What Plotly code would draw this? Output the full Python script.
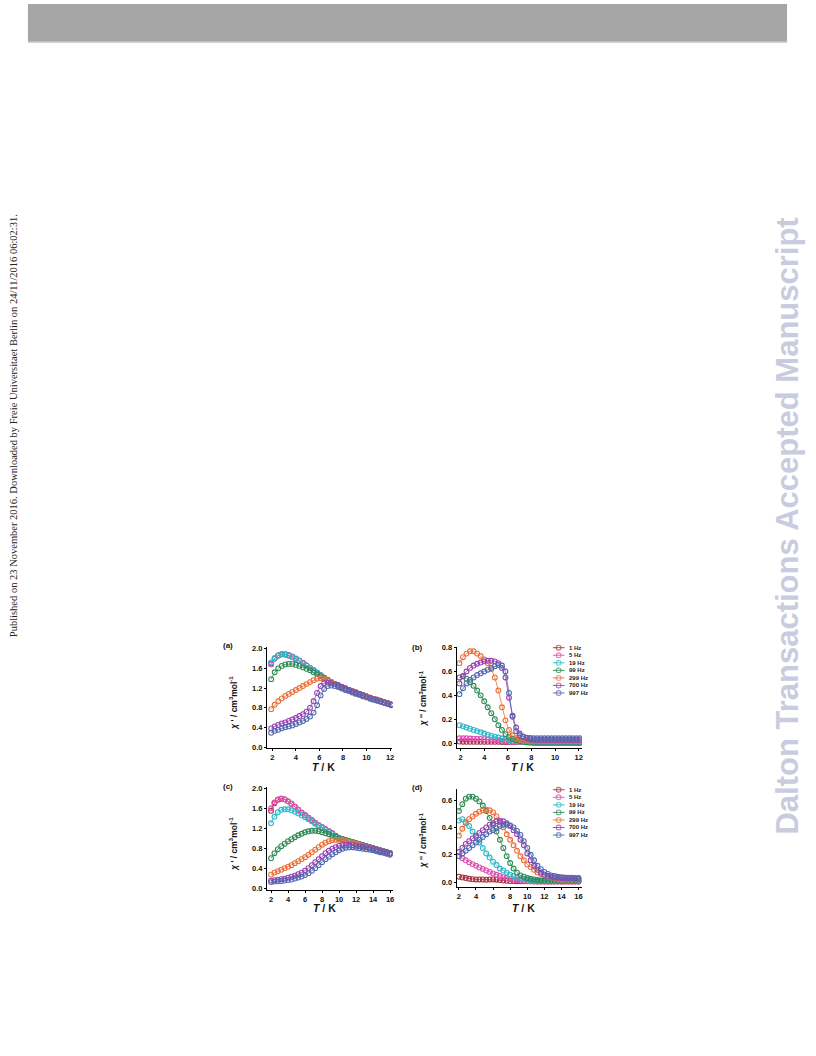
import plotly.graph_objects as go

W, H = 816, 1056

freqs = ["1 Hz", "5 Hz", "19 Hz", "99 Hz", "299 Hz", "700 Hz", "997 Hz"]
colors = ["#a8303f", "#e04fb0", "#2fb8c8", "#2e8b57", "#e8703a", "#9b3fb5", "#5468b0"]

# ---------- temperatures ----------
T_ab = [1.9, 2.2, 2.5, 2.8, 3.1, 3.4, 3.7, 4.0, 4.3, 4.6, 4.9, 5.2, 5.5, 5.8, 6.1, 6.4, 6.7, 7.0,
        7.3, 7.6, 7.9, 8.2, 8.5, 8.8, 9.1, 9.4, 9.7, 10.0, 10.3, 10.6, 10.9, 11.2, 11.5, 11.8, 12.1]
T_cd = [2.0, 2.4, 2.8, 3.2, 3.6, 4.0, 4.4, 4.8, 5.2, 5.6, 6.0, 6.4, 6.8, 7.2, 7.6, 8.0, 8.4, 8.8,
        9.2, 9.6, 10.0, 10.4, 10.8, 11.2, 11.6, 12.0, 12.4, 12.8, 13.2, 13.6, 14.0, 14.4, 14.8, 15.2, 15.6, 16.0]

# ---------- (a) chi' ----------
a_1 = [1.70, 1.80, 1.86, 1.89, 1.88, 1.86, 1.83, 1.79, 1.75, 1.71, 1.66, 1.61, 1.56, 1.51, 1.46, 1.41, 1.36, 1.32,
       1.28, 1.25, 1.22, 1.19, 1.16, 1.13, 1.11, 1.08, 1.05, 1.03, 1.00, 0.98, 0.96, 0.93, 0.91, 0.89, 0.86]
a_5 = [1.68, 1.80, 1.86, 1.89, 1.89, 1.87, 1.84, 1.80, 1.76, 1.71, 1.66, 1.61, 1.56, 1.51, 1.46, 1.41, 1.37, 1.32,
       1.28, 1.25, 1.22, 1.19, 1.16, 1.14, 1.11, 1.08, 1.06, 1.03, 1.01, 0.98, 0.96, 0.94, 0.91, 0.89, 0.87]
a_19 = [1.72, 1.81, 1.86, 1.88, 1.88, 1.86, 1.83, 1.79, 1.75, 1.70, 1.66, 1.61, 1.56, 1.51, 1.46, 1.41, 1.36, 1.32,
        1.28, 1.25, 1.22, 1.19, 1.16, 1.13, 1.10, 1.08, 1.05, 1.03, 1.00, 0.98, 0.95, 0.93, 0.91, 0.88, 0.86]
a_99 = [1.38, 1.52, 1.60, 1.65, 1.68, 1.69, 1.69, 1.67, 1.65, 1.62, 1.59, 1.56, 1.52, 1.48, 1.44, 1.40, 1.36, 1.32,
        1.28, 1.25, 1.22, 1.19, 1.16, 1.13, 1.11, 1.08, 1.05, 1.03, 1.00, 0.98, 0.96, 0.93, 0.91, 0.89, 0.86]
a_299 = [0.77, 0.86, 0.93, 0.99, 1.04, 1.08, 1.12, 1.16, 1.20, 1.24, 1.28, 1.32, 1.36, 1.39, 1.40, 1.39, 1.36, 1.32,
         1.28, 1.25, 1.22, 1.19, 1.16, 1.13, 1.10, 1.08, 1.05, 1.03, 1.00, 0.98, 0.96, 0.93, 0.91, 0.89, 0.86]
a_700 = [0.38, 0.42, 0.45, 0.48, 0.50, 0.53, 0.56, 0.59, 0.63, 0.67, 0.72, 0.80, 0.93, 1.10, 1.24, 1.30, 1.31, 1.30,
         1.28, 1.25, 1.22, 1.19, 1.16, 1.13, 1.10, 1.08, 1.05, 1.02, 1.00, 0.97, 0.95, 0.93, 0.90, 0.88, 0.86]
a_997 = [0.29, 0.33, 0.35, 0.38, 0.40, 0.42, 0.44, 0.47, 0.50, 0.53, 0.57, 0.62, 0.70, 0.85, 1.05, 1.18, 1.24, 1.25,
         1.24, 1.22, 1.19, 1.16, 1.14, 1.11, 1.08, 1.06, 1.03, 1.01, 0.98, 0.96, 0.94, 0.92, 0.90, 0.88, 0.85]

# ---------- (b) chi'' ----------
b_1 = [0.012, 0.011, 0.010, 0.010, 0.010, 0.010, 0.010, 0.010, 0.010, 0.010, 0.010, 0.010, 0.009, 0.009, 0.009,
       0.009, 0.009, 0.009, 0.009, 0.009, 0.009, 0.009, 0.009, 0.009, 0.009, 0.009, 0.009, 0.009, 0.009, 0.009,
       0.009, 0.009, 0.009, 0.009, 0.009]
b_5 = [0.040, 0.040, 0.040, 0.038, 0.037, 0.036, 0.034, 0.032, 0.030, 0.027, 0.024, 0.021, 0.018, 0.015, 0.012,
       0.010, 0.009, 0.008, 0.008, 0.008, 0.008, 0.008, 0.008, 0.008, 0.008, 0.008, 0.008, 0.008, 0.008, 0.008,
       0.008, 0.008, 0.008, 0.008, 0.008]
b_19 = [0.150, 0.140, 0.130, 0.120, 0.110, 0.100, 0.090, 0.080, 0.070, 0.062, 0.054, 0.046, 0.038, 0.031, 0.025,
        0.020, 0.015, 0.011, 0.008, 0.006, 0.005, 0.005, 0.005, 0.005, 0.005, 0.005, 0.005, 0.005, 0.005, 0.005,
        0.005, 0.005, 0.005, 0.005, 0.005]
b_99 = [0.550, 0.560, 0.540, 0.510, 0.480, 0.440, 0.400, 0.350, 0.300, 0.250, 0.200, 0.150, 0.110, 0.075, 0.050,
        0.035, 0.025, 0.017, 0.010, 0.006, 0.003, 0.001, 0.000, 0.000, 0.000, 0.000, 0.000, 0.000, 0.000, 0.000,
        0.000, 0.000, 0.000, 0.000, 0.000]
b_299 = [0.670, 0.720, 0.750, 0.770, 0.770, 0.750, 0.730, 0.700, 0.670, 0.620, 0.550, 0.440, 0.300, 0.190, 0.110,
         0.065, 0.040, 0.028, 0.020, 0.017, 0.015, 0.015, 0.015, 0.015, 0.015, 0.015, 0.015, 0.015, 0.015, 0.015,
         0.015, 0.015, 0.015, 0.015, 0.015]
b_700 = [0.500, 0.560, 0.600, 0.630, 0.650, 0.665, 0.675, 0.685, 0.690, 0.690, 0.685, 0.670, 0.630, 0.550, 0.380,
         0.230, 0.130, 0.080, 0.055, 0.040, 0.032, 0.028, 0.025, 0.025, 0.025, 0.025, 0.025, 0.025, 0.025, 0.025,
         0.025, 0.025, 0.025, 0.025, 0.025]
b_997 = [0.410, 0.460, 0.500, 0.530, 0.550, 0.570, 0.585, 0.600, 0.615, 0.630, 0.645, 0.655, 0.650, 0.600, 0.420,
         0.220, 0.100, 0.065, 0.050, 0.045, 0.042, 0.040, 0.040, 0.040, 0.040, 0.040, 0.040, 0.040, 0.040, 0.040,
         0.040, 0.040, 0.040, 0.040, 0.040]

# ---------- (c) chi' ----------
c_1 = [1.55, 1.70, 1.77, 1.79, 1.78, 1.74, 1.69, 1.63, 1.57, 1.51, 1.46, 1.41, 1.36, 1.31, 1.26, 1.22, 1.18, 1.14,
       1.10, 1.05, 1.00, 0.98, 0.96, 0.94, 0.92, 0.90, 0.88, 0.86, 0.84, 0.82, 0.80, 0.78, 0.76, 0.74, 0.72, 0.70]
c_5 = [1.60, 1.72, 1.78, 1.80, 1.78, 1.74, 1.69, 1.63, 1.57, 1.51, 1.46, 1.41, 1.36, 1.31, 1.26, 1.22, 1.18, 1.14,
       1.10, 1.04, 1.00, 0.98, 0.96, 0.94, 0.92, 0.90, 0.88, 0.86, 0.84, 0.82, 0.80, 0.78, 0.76, 0.74, 0.72, 0.70]
c_19 = [1.30, 1.43, 1.52, 1.57, 1.58, 1.58, 1.56, 1.53, 1.50, 1.46, 1.42, 1.38, 1.34, 1.29, 1.25, 1.21, 1.17, 1.13,
        1.09, 1.04, 1.00, 0.98, 0.96, 0.94, 0.92, 0.90, 0.88, 0.86, 0.84, 0.82, 0.80, 0.78, 0.76, 0.74, 0.72, 0.70]
c_99 = [0.60, 0.70, 0.78, 0.84, 0.89, 0.94, 0.98, 1.02, 1.06, 1.09, 1.12, 1.14, 1.15, 1.15, 1.14, 1.12, 1.10, 1.08,
        1.05, 1.03, 1.00, 0.98, 0.96, 0.94, 0.92, 0.90, 0.88, 0.86, 0.84, 0.82, 0.80, 0.78, 0.76, 0.74, 0.72, 0.70]
c_299 = [0.27, 0.31, 0.34, 0.37, 0.40, 0.43, 0.46, 0.50, 0.54, 0.58, 0.62, 0.67, 0.72, 0.77, 0.82, 0.87, 0.91, 0.94,
         0.96, 0.97, 0.97, 0.96, 0.95, 0.93, 0.91, 0.89, 0.87, 0.85, 0.83, 0.81, 0.79, 0.77, 0.75, 0.73, 0.71, 0.69]
c_700 = [0.15, 0.16, 0.17, 0.18, 0.19, 0.21, 0.23, 0.25, 0.28, 0.31, 0.35, 0.40, 0.46, 0.52, 0.58, 0.64, 0.70, 0.75,
         0.79, 0.82, 0.85, 0.86, 0.87, 0.87, 0.86, 0.85, 0.84, 0.83, 0.82, 0.80, 0.79, 0.77, 0.75, 0.73, 0.71, 0.69]
c_997 = [0.12, 0.13, 0.135, 0.14, 0.15, 0.16, 0.17, 0.19, 0.21, 0.23, 0.26, 0.30, 0.35, 0.40, 0.46, 0.52, 0.58, 0.63,
         0.68, 0.72, 0.76, 0.79, 0.81, 0.82, 0.82, 0.81, 0.80, 0.79, 0.78, 0.77, 0.76, 0.74, 0.72, 0.71, 0.69, 0.67]

# ---------- (d) chi'' ----------
d_1 = [0.040, 0.035, 0.030, 0.025, 0.022, 0.020, 0.020, 0.020, 0.018, 0.020, 0.020, 0.018, 0.015, 0.012, 0.010,
       0.008, 0.008, 0.007, 0.007, 0.006, 0.006, 0.006, 0.005, 0.005, 0.005, 0.005, 0.005, 0.005, 0.005, 0.005,
       0.005, 0.005, 0.005, 0.005, 0.005, 0.005]
d_5 = [0.190, 0.175, 0.160, 0.145, 0.132, 0.120, 0.108, 0.097, 0.086, 0.075, 0.064, 0.054, 0.045, 0.037, 0.030,
       0.024, 0.019, 0.015, 0.012, 0.010, 0.008, 0.007, 0.006, 0.005, 0.005, 0.005, 0.005, 0.005, 0.005, 0.005,
       0.005, 0.005, 0.005, 0.005, 0.005, 0.005]
d_19 = [0.450, 0.460, 0.440, 0.410, 0.370, 0.330, 0.290, 0.250, 0.210, 0.180, 0.150, 0.125, 0.100, 0.085, 0.070,
        0.055, 0.045, 0.035, 0.028, 0.022, 0.018, 0.015, 0.012, 0.010, 0.010, 0.010, 0.010, 0.010, 0.010, 0.010,
        0.010, 0.010, 0.010, 0.010, 0.010, 0.010]
d_99 = [0.520, 0.570, 0.610, 0.625, 0.625, 0.610, 0.590, 0.560, 0.520, 0.470, 0.420, 0.370, 0.310, 0.250, 0.190,
        0.140, 0.100, 0.070, 0.050, 0.040, 0.030, 0.025, 0.020, 0.016, 0.013, 0.011, 0.010, 0.010, 0.010, 0.010,
        0.010, 0.010, 0.010, 0.010, 0.010, 0.010]
d_299 = [0.340, 0.390, 0.430, 0.460, 0.480, 0.500, 0.515, 0.525, 0.530, 0.525, 0.510, 0.480, 0.440, 0.400, 0.350,
         0.310, 0.270, 0.230, 0.190, 0.160, 0.130, 0.110, 0.090, 0.070, 0.060, 0.050, 0.040, 0.035, 0.030, 0.025,
         0.020, 0.020, 0.020, 0.020, 0.020, 0.020]
d_700 = [0.220, 0.250, 0.280, 0.300, 0.320, 0.340, 0.360, 0.380, 0.400, 0.420, 0.430, 0.445, 0.450, 0.445, 0.430,
         0.410, 0.380, 0.350, 0.310, 0.270, 0.210, 0.160, 0.120, 0.090, 0.070, 0.055, 0.045, 0.040, 0.035, 0.032,
         0.030, 0.028, 0.027, 0.026, 0.025, 0.025]
d_997 = [0.190, 0.210, 0.230, 0.250, 0.270, 0.290, 0.310, 0.330, 0.350, 0.370, 0.380, 0.395, 0.410, 0.420, 0.420,
         0.415, 0.400, 0.375, 0.345, 0.300, 0.250, 0.200, 0.160, 0.120, 0.095, 0.075, 0.060, 0.050, 0.045, 0.040,
         0.036, 0.034, 0.033, 0.032, 0.031, 0.030]

panels = [
    ("x", "y", T_ab, [a_1, a_5, a_19, a_99, a_299, a_700, a_997]),
    ("x2", "y2", T_ab, [b_1, b_5, b_19, b_99, b_299, b_700, b_997]),
    ("x3", "y3", T_cd, [c_1, c_5, c_19, c_99, c_299, c_700, c_997]),
    ("x4", "y4", T_cd, [d_1, d_5, d_19, d_99, d_299, d_700, d_997]),
]

FONT = "Liberation Sans, Arial, sans-serif"


def px(x):
    return x / W


def py(y):
    return 1 - y / H


fig = go.Figure()

for xa, ya, T, series in panels:
    for name, col, vals in zip(freqs, colors, series):
        fig.add_trace(go.Scatter(
            x=T, y=vals, xaxis=xa, yaxis=ya, mode="lines+markers", name=name,
            showlegend=False,
            line=dict(color=col, width=0.8),
            marker=dict(symbol="circle-open", size=4.8, color=col, line=dict(width=1.1, color=col)),
        ))

# hand-built legends for (b) and (d)
for xa, ya in [("x5", "y5"), ("x6", "y6")]:
    for i, (name, col) in enumerate(zip(freqs, colors)):
        fig.add_trace(go.Scatter(
            x=[0, 6, 12], y=[i, i, i], xaxis=xa, yaxis=ya, mode="lines+markers",
            showlegend=False, hoverinfo="skip",
            line=dict(color=col, width=0.9),
            marker=dict(symbol="circle-open", size=[0, 4.8, 0], color=col, line=dict(width=1.1, color=col)),
        ))

axis_common = dict(showgrid=False, zeroline=False, showline=True, linecolor="black", linewidth=1,
                   ticks="outside", ticklen=2, tickwidth=1, tickcolor="black",
                   tickfont=dict(family=FONT, size=7.5, color="#111", weight=700))

# domains (pixel based)
A = dict(x=(267.7, 393.4), y=(648.3, 750.0), xr=[1.55, 12.2], yr=[-0.02, 2.034], yt=[0, 0.4, 0.8, 1.2, 1.6, 2.0], xt=[2, 4, 6, 8, 10, 12])
B = dict(x=(457.7, 583.3), y=(648.0, 750.0), xr=[1.66, 12.27], yr=[-0.042, 0.808], yt=[0, 0.2, 0.4, 0.6, 0.8], xt=[2, 4, 6, 8, 10, 12])
C = dict(x=(267.7, 393.6), y=(789.1, 893.0), xr=[1.53, 16.3], yr=[-0.04, 2.03], yt=[0, 0.4, 0.8, 1.2, 1.6, 2.0], xt=[2, 4, 6, 8, 10, 12, 14, 16])
D = dict(x=(457.7, 583.2), y=(791.2, 890.0), xr=[1.73, 16.38], yr=[-0.036, 0.681], yt=[0, 0.2, 0.4, 0.6], xt=[2, 4, 6, 8, 10, 12, 14, 16])

layout_axes = {}
for k, P in zip(["", "2", "3", "4"], [A, B, C, D]):
    layout_axes["xaxis" + k] = dict(axis_common, domain=[px(P["x"][0]), px(P["x"][1])], range=P["xr"],
                                    tickvals=P["xt"], anchor="y" + k)
    layout_axes["yaxis" + k] = dict(axis_common, domain=[py(P["y"][1]), py(P["y"][0])], range=P["yr"],
                                    tickvals=P["yt"], tickformat=".1f", anchor="x" + k)

# legend axes: x in pixel units from 554 px, rows 7.6 px apart
leg_b_top, leg_d_top, step = 649.0, 792.0, 7.6
for k, top in [("5", leg_b_top), ("6", leg_d_top)]:
    y0, y1 = top - 4, top + 6 * step + 4
    layout_axes["xaxis" + k] = dict(domain=[px(554), px(592)], range=[0, 38], visible=False, anchor="y" + k)
    layout_axes["yaxis" + k] = dict(domain=[py(y1), py(y0)], range=[(y1 - top) / step, (y0 - top) / step],
                                    visible=False, anchor="x" + k)

annotations = []
for k in ["5", "6"]:
    for i, name in enumerate(freqs):
        annotations.append(dict(x=14.5, y=i, xref="x" + k, yref="y" + k, text=name, showarrow=False,
                                xanchor="left", yanchor="middle",
                                font=dict(family=FONT, size=6, color="#222", weight=700)))

# panel labels
for lab, x, y in [("(a)", 229, 647), ("(b)", 419, 649), ("(c)", 229, 789), ("(d)", 419, 790)]:
    annotations.append(dict(x=px(x), y=py(y), xref="paper", yref="paper", text=lab, showarrow=False,
                            xanchor="center", yanchor="middle",
                            font=dict(family=FONT, size=8, color="#111", weight=700)))

# axis titles
ytitle1 = "<i>χ</i> ' / cm<sup>3</sup>mol<sup>-1</sup>"
ytitle2 = "<i>χ</i> '' / cm<sup>3</sup>mol<sup>-1</sup>"
for txt, x, y in [(ytitle1, 234, 704), (ytitle2, 424, 700), (ytitle1, 234, 846), (ytitle2, 424, 843)]:
    annotations.append(dict(x=px(x), y=py(y), xref="paper", yref="paper", text=txt, showarrow=False,
                            textangle=-90, xanchor="center", yanchor="middle",
                            font=dict(family=FONT, size=8.5, color="#111", weight=700)))
for x, y in [(324, 769), (524, 769), (325, 911), (525, 911)]:
    annotations.append(dict(x=px(x), y=py(y), xref="paper", yref="paper", text="<i>T</i> / K", showarrow=False,
                            xanchor="center", yanchor="middle",
                            font=dict(family=FONT, size=10.5, color="#111", weight=700)))

# page decorations
annotations.append(dict(x=px(13), y=py(425), xref="paper", yref="paper", showarrow=False, textangle=-90,
                        xanchor="center", yanchor="middle",
                        text="Published on 23 November 2016. Downloaded by Freie Universitaet Berlin on 24/11/2016 06:02:31.",
                        font=dict(family="Liberation Serif, Times New Roman, serif", size=10.5, color="#222")))
annotations.append(dict(x=px(789), y=py(527), xref="paper", yref="paper", showarrow=False, textangle=-90,
                        xanchor="center", yanchor="middle",
                        text="Dalton Transactions Accepted Manuscript",
                        font=dict(family=FONT, size=31, color="#cbcbdf", weight=700)))

shapes = [
    dict(type="rect", xref="paper", yref="paper", x0=px(28), x1=px(789), y0=py(39), y1=py(1),
         fillcolor="#a6a6a6", line=dict(width=0), layer="below"),
    dict(type="line", xref="paper", yref="paper", x0=px(28), x1=px(789), y0=py(39.5), y1=py(39.5),
         line=dict(color="#c4c4c4", width=1)),
]

fig.update_layout(
    width=W, height=H, margin=dict(l=0, r=0, t=0, b=0),
    paper_bgcolor="white", plot_bgcolor="rgba(0,0,0,0)",
    showlegend=False, annotations=annotations, shapes=shapes,
    **layout_axes,
)

fig.write_html("out.html", config={"displayModeBar": False},
               post_script="document.body.style.margin='0';document.body.style.overflow='hidden';")
